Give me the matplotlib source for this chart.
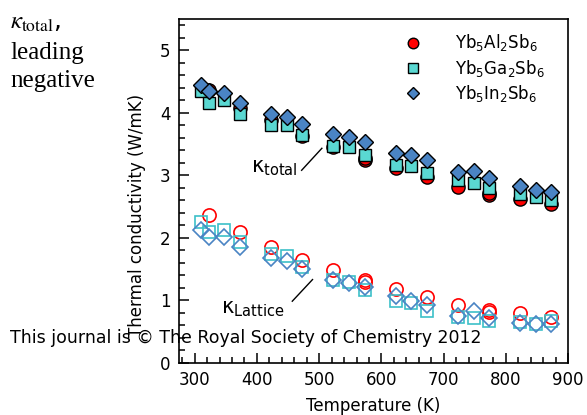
import numpy as np
import matplotlib
matplotlib.use('Agg')
import matplotlib.pyplot as plt
from matplotlib.ticker import MultipleLocator

plt.rcParams['font.family'] = ['DejaVu Sans']
plt.rcParams['mathtext.fontset'] = 'dejavusans'

# temperatures (K)
temp = [310, 323, 348, 373, 423, 448, 473, 523, 548, 573,
        623, 648, 673, 723, 748, 773, 823, 848, 873]
temp_al = [323, 373, 423, 473, 523, 573, 573, 623, 673, 723, 773, 773, 823, 873]

# total thermal conductivity
al_total = [4.37, 4.08, 3.89, 3.63, 3.45, 3.24, 3.28, 3.12, 2.97, 2.81, 2.68, 2.72, 2.62, 2.54]
ga_total = [4.35, 4.16, 4.20, 3.98, 3.80, 3.80, 3.65, 3.47, 3.45, 3.32,
            3.16, 3.15, 3.04, 2.92, 2.87, 2.79, 2.70, 2.65, 2.60]
in_total = [4.45, 4.35, 4.32, 4.16, 3.98, 3.93, 3.82, 3.66, 3.62, 3.53,
            3.36, 3.32, 3.24, 3.05, 3.07, 2.96, 2.83, 2.77, 2.73]

# lattice thermal conductivity
al_latt = [2.37, 2.10, 1.86, 1.65, 1.48, 1.33, 1.29, 1.18, 1.05, 0.93, 0.85, 0.81, 0.79, 0.73]
ga_latt = [2.25, 2.09, 2.12, 1.93, 1.74, 1.71, 1.53, 1.32, 1.29, 1.16,
           0.99, 0.96, 0.83, 0.73, 0.72, 0.66, 0.65, 0.62, 0.66]
in_latt = [2.12, 2.02, 2.02, 1.86, 1.67, 1.63, 1.50, 1.33, 1.28, 1.21,
           1.06, 0.99, 0.93, 0.75, 0.82, 0.72, 0.64, 0.62, 0.62]

red = '#ff0000'
cyan = '#5ad8d2'
cyan_edge = '#3cc0c8'
blue = '#4a84c4'

fig = plt.figure(figsize=(5.87, 4.15), dpi=100)
ax = fig.add_axes([0.305, 0.126, 0.663, 0.828])

# lattice (open markers)
ax.plot(temp_al, al_latt, 'o', ms=9.5, mfc='none', mec=red, mew=1.2, zorder=3)
ax.plot(temp, ga_latt, 's', ms=8.5, mfc='none', mec=cyan_edge, mew=1.2, zorder=4)
ax.plot(temp, in_latt, 'D', ms=7.8, mfc='none', mec=blue, mew=1.2, zorder=5)

# total (filled markers)
ax.plot(temp_al, al_total, 'o', ms=9.5, mfc=red, mec='k', mew=1.0, zorder=3,
        label=r'Yb$_5$Al$_2$Sb$_6$')
ax.plot(temp, ga_total, 's', ms=8.5, mfc=cyan, mec='k', mew=1.0, zorder=4,
        label=r'Yb$_5$Ga$_2$Sb$_6$')
ax.plot(temp, in_total, 'D', ms=7.8, mfc=blue, mec='k', mew=1.0, zorder=5,
        label=r'Yb$_5$In$_2$Sb$_6$')

ax.set_xlim(275, 900)
ax.set_ylim(0, 5.5)
ax.xaxis.set_major_locator(MultipleLocator(100))
ax.xaxis.set_minor_locator(MultipleLocator(20))
ax.yaxis.set_major_locator(MultipleLocator(1))
ax.yaxis.set_minor_locator(MultipleLocator(0.2))
ax.tick_params(which='both', direction='in', labelsize=12, width=1.1)
ax.tick_params(which='major', length=7, pad=6)
ax.tick_params(which='minor', length=4)
for s in ax.spines.values():
    s.set_linewidth(1.2)

ax.set_xlabel('Temperature (K)', fontsize=12, labelpad=6)
ax.set_ylabel('Thermal conductivity (W/mK)', fontsize=12)
ax.yaxis.set_label_coords(-0.085, 0.43)

ax.legend(loc='upper right', frameon=False, fontsize=12, handletextpad=1.5,
          labelspacing=0.25, markerscale=0.8, bbox_to_anchor=(0.97, 0.995),
          borderaxespad=0.3)

# annotations
ax.text(0.245, 0.566, r'κ$_{\rm total}$', transform=ax.transAxes, fontsize=15,
        ha='center', va='center')
ax.plot([0.315, 0.367], [0.560, 0.624], transform=ax.transAxes, color='k', lw=1)
ax.text(0.19, 0.155, r'κ$_{\rm Lattice}$', transform=ax.transAxes, fontsize=15,
        ha='center', va='center')
ax.plot([0.291, 0.343], [0.179, 0.242], transform=ax.transAxes, color='k', lw=1)

# overlaid page text
fig.text(0.017, 0.186, 'This journal is \u00a9 The Royal Society of Chemistry 2012',
         fontsize=12.5, ha='left', va='center')
fig.text(0.017, 0.948, r'$\kappa_{\rm total}$,', fontsize=18, ha='left', va='center',
         math_fontfamily='stix')
fig.text(0.017, 0.873, 'leading', fontsize=18, ha='left', va='center',
         family='Liberation Serif')
fig.text(0.017, 0.806, 'negative', fontsize=18, ha='left', va='center',
         family='Liberation Serif')

fig.savefig('out.png', dpi=100)
